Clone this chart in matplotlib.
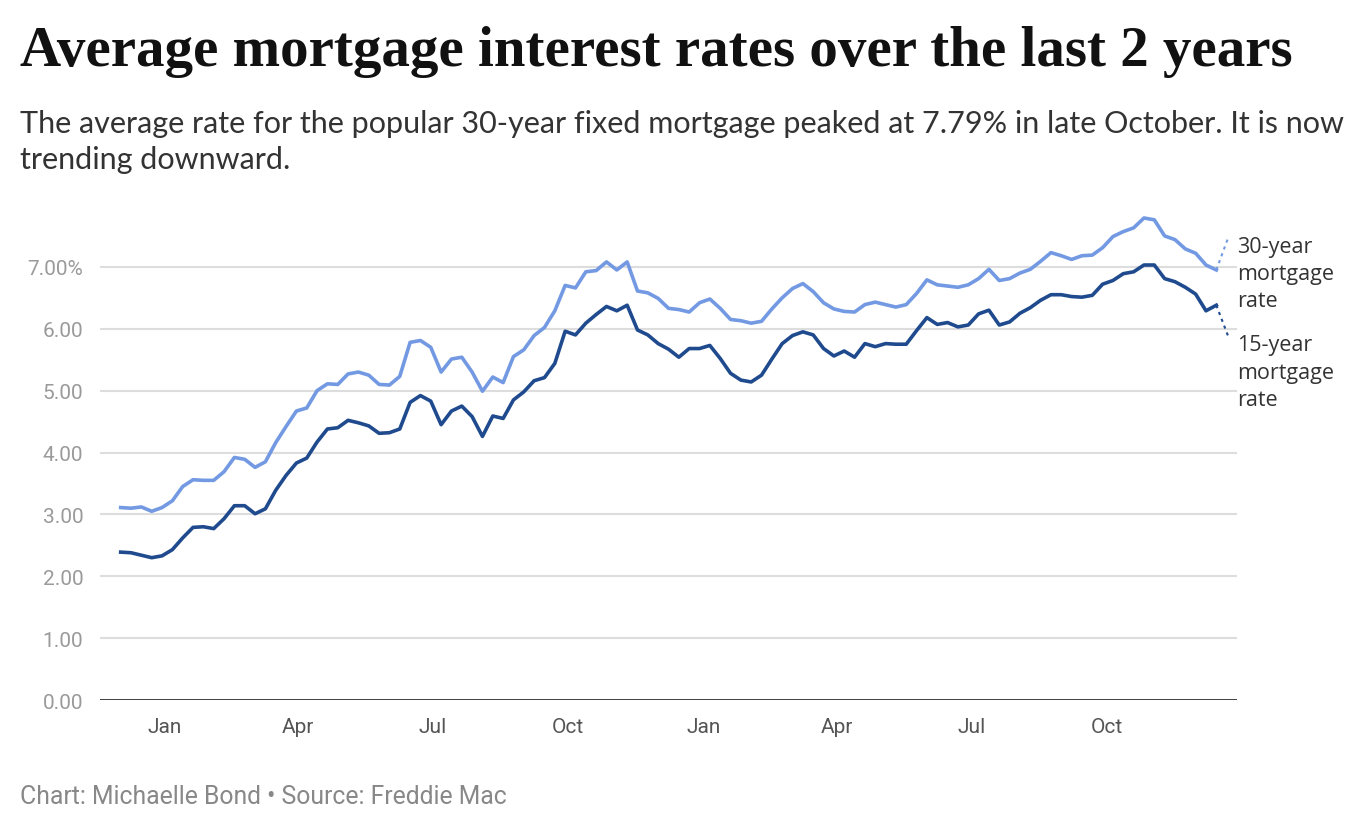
import matplotlib
matplotlib.use("Agg")
import matplotlib.pyplot as plt
import matplotlib.dates as mdates
import pandas as pd

# Freddie Mac weekly averages, Dec 2 2021 .. Dec 14 2023
start_date = "2021-12-02"
rate_30yr = [
    3.11, 3.10, 3.12, 3.05, 3.11,
    3.22, 3.45, 3.56, 3.55, 3.55, 3.69, 3.92, 3.89, 3.76, 3.85, 4.16, 4.42, 4.67,
    4.72, 5.00, 5.11, 5.10, 5.27, 5.30, 5.25, 5.10, 5.09, 5.23, 5.78, 5.81, 5.70,
    5.30, 5.51, 5.54, 5.30, 4.99, 5.22, 5.13, 5.55, 5.66, 5.89, 6.02, 6.29, 6.70,
    6.66, 6.92, 6.94, 7.08, 6.95, 7.08, 6.61, 6.58, 6.49, 6.33, 6.31, 6.27, 6.42,
    6.48, 6.33, 6.15, 6.13, 6.09, 6.12, 6.32, 6.50, 6.65, 6.73, 6.60, 6.42, 6.32,
    6.28, 6.27, 6.39, 6.43, 6.39, 6.35, 6.39, 6.57, 6.79, 6.71, 6.69, 6.67, 6.71,
    6.81, 6.96, 6.78, 6.81, 6.90, 6.96, 7.09, 7.23, 7.18, 7.12, 7.18, 7.19, 7.31,
    7.49, 7.57, 7.63, 7.79, 7.76, 7.50, 7.44, 7.29, 7.22, 7.03, 6.95,
]
rate_15yr = [
    2.39, 2.38, 2.34, 2.30, 2.33,
    2.43, 2.62, 2.79, 2.80, 2.77, 2.93, 3.14, 3.14, 3.01, 3.09, 3.39, 3.63, 3.83,
    3.91, 4.17, 4.38, 4.40, 4.52, 4.48, 4.43, 4.31, 4.32, 4.38, 4.81, 4.92, 4.83,
    4.45, 4.67, 4.75, 4.58, 4.26, 4.59, 4.55, 4.85, 4.98, 5.16, 5.21, 5.44, 5.96,
    5.90, 6.09, 6.23, 6.36, 6.29, 6.38, 5.98, 5.90, 5.76, 5.67, 5.54, 5.68, 5.68,
    5.73, 5.52, 5.28, 5.17, 5.14, 5.25, 5.51, 5.76, 5.89, 5.95, 5.90, 5.68, 5.56,
    5.64, 5.54, 5.76, 5.71, 5.76, 5.75, 5.75, 5.97, 6.18, 6.07, 6.10, 6.03, 6.06,
    6.24, 6.30, 6.06, 6.11, 6.25, 6.34, 6.46, 6.55, 6.55, 6.52, 6.51, 6.54, 6.72,
    6.78, 6.89, 6.92, 7.03, 7.03, 6.81, 6.76, 6.67, 6.56, 6.29, 6.38,
]
y_ticks = [0, 1, 2, 3, 4, 5, 6, 7]
y_tick_labels = ["0.00", "1.00", "2.00", "3.00", "4.00", "5.00", "6.00", "7.00%"]
series_labels = ["30-year\nmortgage\nrate", "15-year\nmortgage\nrate"]

dates = pd.date_range(start_date, periods=len(rate_30yr), freq="7D")

c30 = "#7299e2"
c15 = "#1f4b8e"

fig = plt.figure(figsize=(13.72, 8.2), dpi=100)
ax = fig.add_axes([0.0729, 0.1451, 0.8287, 0.6037])

ax.plot(dates, rate_30yr, color=c30, lw=2.6, solid_joinstyle="round", zorder=3)
ax.plot(dates, rate_15yr, color=c15, lw=2.6, solid_joinstyle="round", zorder=3)

ax.set_ylim(0, 8.0)
ax.set_xlim(pd.Timestamp("2021-11-18"), pd.Timestamp("2023-12-28"))
ax.set_yticks(y_ticks)
ax.set_yticklabels(y_tick_labels)
ax.yaxis.grid(True, color="#dddddd", lw=1.5)
ax.set_axisbelow(True)
ax.axhline(0, color="#333333", lw=2, zorder=4)

ax.xaxis.set_major_locator(mdates.MonthLocator(bymonth=[1, 4, 7, 10]))
ax.xaxis.set_major_formatter(mdates.DateFormatter("%b"))
ax.tick_params(axis="x", length=0, pad=12, labelsize=15, labelcolor="#555555")
ax.tick_params(axis="y", length=0, pad=12, labelsize=15, labelcolor="#9a9a9a")
for lab in ax.get_xticklabels() + ax.get_yticklabels():
    lab.set_fontfamily("Roboto")
for s in ax.spines.values():
    s.set_visible(False)

# end labels with dotted leaders
last = dates[-1]
lx = pd.Timestamp("2023-12-22")
ax.plot([last, lx], [rate_30yr[-1], 7.47], color=c30, lw=1.5, ls=(0, (1.5, 2)),
        clip_on=False)
ax.plot([last, lx], [rate_15yr[-1], 5.88], color=c15, lw=1.5, ls=(0, (1.5, 2)),
        clip_on=False)
ax.text(1.0, 6.89, series_labels[0], transform=ax.get_yaxis_transform(),
        ha="left", va="center", fontsize=15.5, color="#333333",
        family="Open Sans", linespacing=1.38)
ax.text(1.0, 5.30, series_labels[1], transform=ax.get_yaxis_transform(),
        ha="left", va="center", fontsize=15.5, color="#333333",
        family="Open Sans", linespacing=1.38)

fig.text(0.0146, 0.937, "Average mortgage interest rates over the last 2 years",
         fontsize=41, fontweight="bold", family="Liberation Serif",
         color="#111111", ha="left", va="center")
fig.text(0.0146, 0.827,
         "The average rate for the popular 30-year fixed mortgage peaked at 7.79% in late October. It is now\ntrending downward.",
         fontsize=22, family="Lato", color="#333333", ha="left", va="center",
         linespacing=1.35)
fig.text(0.0146, 0.028, "Chart: Michaelle Bond \u2022 Source: Freddie Mac",
         fontsize=17.8, family="Roboto", color="#888888", ha="left", va="center")

fig.savefig("out.png", dpi=100)
